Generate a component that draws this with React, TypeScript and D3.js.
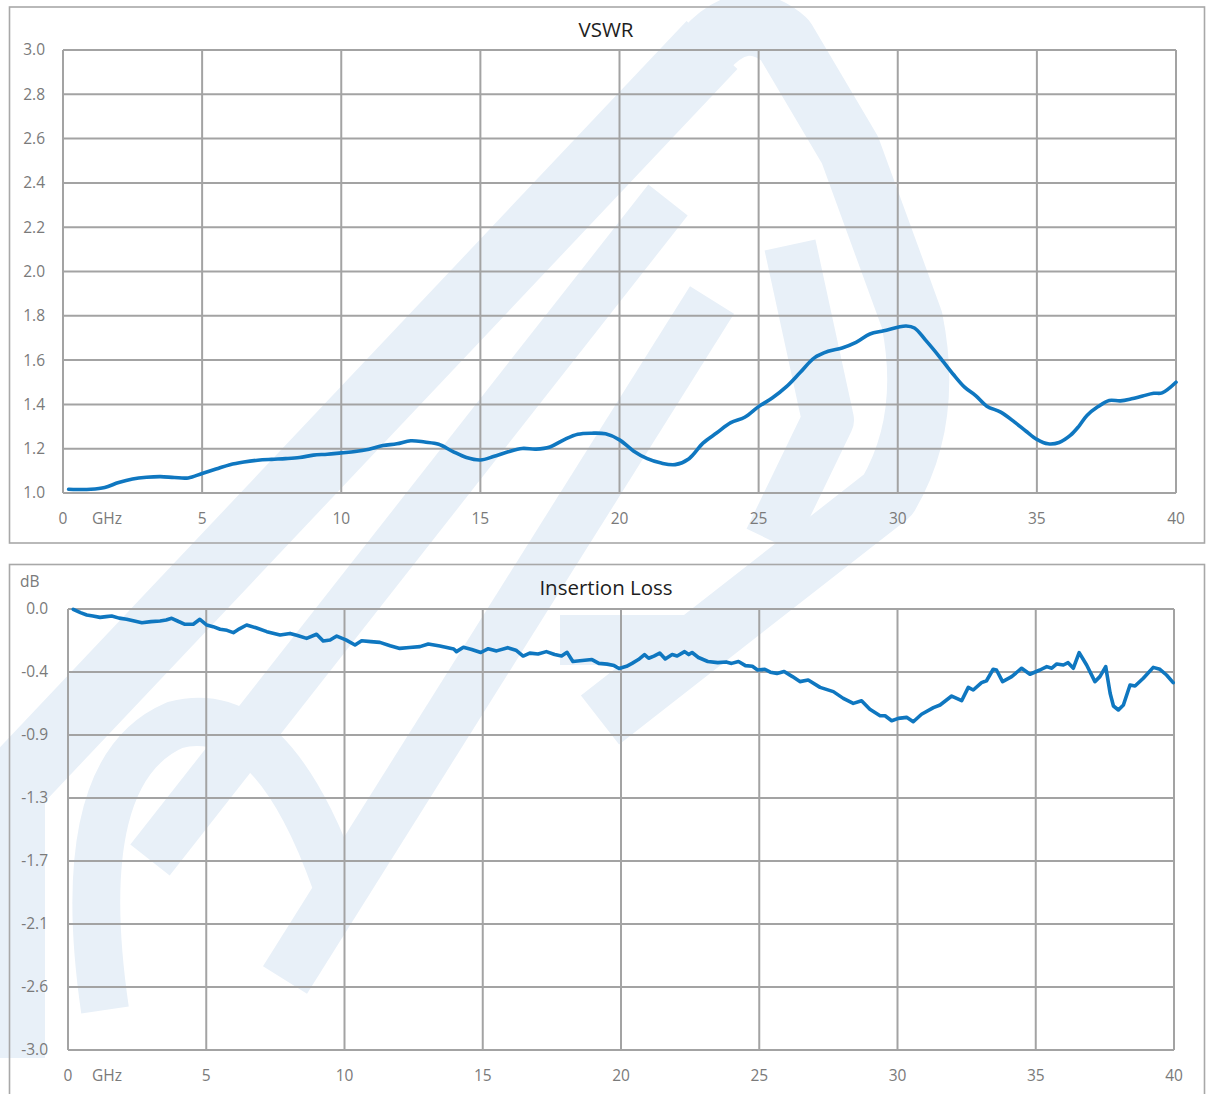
import React from "react";
import * as d3 from "d3";

// ---------- DATA ----------
const vswrFreq = [0.2, 0.5, 1, 1.5, 2, 2.5, 3, 3.5, 4, 4.5, 5, 5.5, 6, 6.5, 7, 7.5, 8, 8.5, 9, 9.5, 10, 10.5, 11, 11.5, 12, 12.5, 13, 13.5, 14, 14.5, 15, 15.5, 16, 16.5, 17, 17.5, 18, 18.5, 19, 19.5, 20, 20.5, 21, 21.5, 22, 22.5, 23, 23.5, 24, 24.5, 25, 25.5, 26, 26.5, 27, 27.5, 28, 28.5, 29, 29.5, 30, 30.3, 30.6, 31, 31.5, 32, 32.4, 32.8, 33.2, 33.7, 34.2, 34.6, 35, 35.4, 35.8, 36.2, 36.5, 36.8, 37.2, 37.6, 38, 38.4, 38.8, 39.2, 39.5, 40];
const vswrValue = [1.017, 1.016, 1.017, 1.025, 1.047, 1.063, 1.071, 1.074, 1.07, 1.068, 1.088, 1.108, 1.128, 1.14, 1.148, 1.152, 1.155, 1.16, 1.171, 1.175, 1.181, 1.187, 1.198, 1.214, 1.222, 1.236, 1.23, 1.22, 1.188, 1.16, 1.149, 1.166, 1.186, 1.201, 1.198, 1.208, 1.24, 1.265, 1.27, 1.267, 1.24, 1.19, 1.155, 1.135, 1.128, 1.155, 1.225, 1.272, 1.318, 1.342, 1.39, 1.43, 1.48, 1.545, 1.61, 1.64, 1.655, 1.68, 1.718, 1.732, 1.748, 1.754, 1.745, 1.69, 1.615, 1.535, 1.478, 1.44, 1.392, 1.365, 1.32, 1.28, 1.242, 1.222, 1.228, 1.26, 1.3, 1.35, 1.39, 1.418, 1.416, 1.425, 1.438, 1.45, 1.452, 1.5];

const ilFreq = [0.19, 0.45, 0.68, 0.9, 1.16, 1.38, 1.58, 1.85, 2.12, 2.4, 2.67, 3.0, 3.33, 3.55, 3.75, 4.0, 4.23, 4.53, 4.77, 5.02, 5.25, 5.5, 5.75, 5.98, 6.2, 6.46, 6.8, 7.19, 7.67, 8.03, 8.3, 8.63, 8.99, 9.23, 9.48, 9.72, 10.05, 10.38, 10.62, 10.95, 11.28, 11.65, 12.0, 12.35, 12.73, 13.03, 13.45, 13.7, 13.95, 14.05, 14.3, 14.6, 14.93, 15.2, 15.5, 15.9, 16.2, 16.46, 16.7, 17.0, 17.3, 17.6, 17.85, 18.05, 18.26, 18.6, 18.95, 19.2, 19.5, 19.75, 19.93, 20.2, 20.4, 20.63, 20.85, 21.0, 21.19, 21.4, 21.6, 21.85, 22.03, 22.3, 22.45, 22.57, 22.8, 23.14, 23.5, 23.8, 24.0, 24.25, 24.5, 24.75, 24.94, 25.2, 25.4, 25.64, 25.9, 26.2, 26.47, 26.77, 27.2, 27.68, 28.04, 28.4, 28.7, 29.0, 29.37, 29.55, 29.79, 30.03, 30.33, 30.57, 30.87, 31.3, 31.54, 31.96, 32.32, 32.56, 32.74, 33.04, 33.22, 33.46, 33.58, 33.8, 34.13, 34.49, 34.79, 35.15, 35.4, 35.58, 35.76, 36.0, 36.17, 36.36, 36.57, 36.84, 37.14, 37.32, 37.53, 37.69, 37.81, 37.99, 38.17, 38.41, 38.59, 38.89, 39.25, 39.49, 39.73, 39.97];
const ilValue = [-0.002, -0.025, -0.041, -0.048, -0.057, -0.052, -0.048, -0.062, -0.07, -0.082, -0.093, -0.086, -0.082, -0.075, -0.063, -0.085, -0.104, -0.104, -0.07, -0.109, -0.12, -0.138, -0.145, -0.161, -0.135, -0.109, -0.128, -0.154, -0.177, -0.166, -0.18, -0.2, -0.172, -0.218, -0.211, -0.184, -0.21, -0.245, -0.216, -0.222, -0.227, -0.25, -0.268, -0.262, -0.256, -0.238, -0.252, -0.262, -0.272, -0.29, -0.26, -0.275, -0.296, -0.27, -0.285, -0.263, -0.28, -0.32, -0.3, -0.306, -0.29, -0.31, -0.32, -0.295, -0.357, -0.35, -0.344, -0.37, -0.375, -0.385, -0.405, -0.39, -0.37, -0.344, -0.31, -0.335, -0.32, -0.3, -0.34, -0.31, -0.32, -0.29, -0.31, -0.296, -0.33, -0.357, -0.365, -0.36, -0.37, -0.357, -0.385, -0.39, -0.415, -0.41, -0.43, -0.438, -0.425, -0.46, -0.494, -0.483, -0.533, -0.562, -0.608, -0.642, -0.624, -0.682, -0.726, -0.726, -0.76, -0.744, -0.737, -0.767, -0.716, -0.671, -0.653, -0.592, -0.624, -0.533, -0.551, -0.501, -0.488, -0.41, -0.415, -0.494, -0.46, -0.403, -0.444, -0.415, -0.392, -0.403, -0.374, -0.381, -0.365, -0.403, -0.297, -0.381, -0.494, -0.46, -0.392, -0.573, -0.66, -0.687, -0.653, -0.517, -0.524, -0.471, -0.397, -0.41, -0.449, -0.501];

const xTicks = [0, 5, 10, 15, 20, 25, 30, 35, 40];
const vswrTicks = [1.0, 1.2, 1.4, 1.6, 1.8, 2.0, 2.2, 2.4, 2.6, 2.8, 3.0];
const ilTicks = d3.range(8).map((i) => (-3 * i) / 7);
const ilTickLabels = ["0.0", "-0.4", "-0.9", "-1.3", "-1.7", "-2.1", "-2.6", "-3.0"];

const W = 1206;
const H = 1094;
const FONT = "'Open Sans', 'Liberation Sans', sans-serif";
const GRID = "#a3a3a3";
const LINE = "#0f77c0";
const TXT = "#7a7a7a";

const vswrPts = vswrFreq.map((f, i) => [f, vswrValue[i]] as [number, number]);
const ilPts = ilFreq.map((f, i) => [f, ilValue[i]] as [number, number]);

function Watermark() {
  const c = "#e8f0f8";
  return (
    <g fill="none" stroke={c} strokeLinejoin="round">
      {/* outer ring of logo */}
      <path d="M -30 830 L 712 45" strokeWidth={70} />
      <path d="M 705 50 Q 745 5 785 40 L 850 150 L 912 320 Q 932 420 888 495 L 600 720" strokeWidth={62} />
      <path d="M 0 760 L 0 1100" strokeWidth={90} />
      {/* inner diagonal strokes */}
      <path d="M 668 200 L 150 860" strokeWidth={50} />
      <path d="M 712 300 L 285 980" strokeWidth={52} />
      <path d="M 790 245 L 828 420 L 770 540" strokeWidth={52} />
      {/* inner loop */}
      <path d="M 105 1010 Q 70 770 175 725 Q 270 700 335 880" strokeWidth={48} />
      <path d="M 560 640 L 720 640" strokeWidth={50} />
    </g>
  );
}

function Panel({
  top,
  plotX0,
  plotX1,
  plotY0,
  plotY1,
  yDomain,
  yTicks,
  yLabels,
  yLabelX,
  xLabelY,
  title,
  titleY,
  pts,
  curve,
  unit,
}: any) {
  const x = d3.scaleLinear().domain([0, 40]).range([plotX0, plotX1]);
  const y = d3.scaleLinear().domain(yDomain).range([plotY1, plotY0]);
  const line = d3
    .line<[number, number]>()
    .x((d) => x(d[0]))
    .y((d) => y(d[1]))
    .curve(curve);
  return (
    <g>
      <rect x={9.5} y={top} width={1195} height={top > 100 ? 560 : 536} fill="none" stroke="#a8a8a8" strokeWidth={1.6} />
      {yTicks.map((t: number, i: number) => (
        <line key={"h" + i} x1={plotX0} x2={plotX1} y1={y(t)} y2={y(t)} stroke={GRID} strokeWidth={2} />
      ))}
      {xTicks.map((t) => (
        <line key={"v" + t} x1={x(t)} x2={x(t)} y1={plotY0} y2={plotY1} stroke={GRID} strokeWidth={2} />
      ))}
      <path d={line(pts) || ""} fill="none" stroke={LINE} strokeWidth={3.6} strokeLinejoin="round" strokeLinecap="round" />
      {yTicks.map((t: number, i: number) => (
        <text key={"yl" + i} x={yLabelX} y={y(t)} dy="0.35em" textAnchor="end" fontSize={15.5} fill={TXT} fontFamily={FONT}>
          {yLabels[i]}
        </text>
      ))}
      {xTicks.map((t) => (
        <text key={"xl" + t} x={x(t)} y={xLabelY} dy="0.35em" textAnchor="middle" fontSize={15.5} fill={TXT} fontFamily={FONT}>
          {t}
        </text>
      ))}
      <text x={107} y={xLabelY} dy="0.35em" textAnchor="middle" fontSize={15.5} fill={TXT} fontFamily={FONT}>
        GHz
      </text>
      <text x={606} y={titleY} dy="0.35em" textAnchor="middle" fontSize={20.5} fill="#1e1e1e" fontFamily={FONT}>
        {title}
      </text>
      {unit && (
        <text x={20} y={582} dy="0.35em" fontSize={15.5} fill={TXT} fontFamily={FONT}>
          {unit}
        </text>
      )}
    </g>
  );
}

export default function App() {
  return (
    <svg width={W} height={H} style={{ position: "absolute", left: 0, top: 0, background: "#fff" }}>
      <rect x={0} y={0} width={W} height={H} fill="#fff" />
      <Watermark />
      <rect x={0} y={1058} width={133} height={40} fill="#fff" />
      <Panel
        top={7}
        plotX0={63}
        plotX1={1176}
        plotY0={50}
        plotY1={493}
        yDomain={[1, 3]}
        yTicks={vswrTicks}
        yLabels={vswrTicks.map((t) => t.toFixed(1))}
        yLabelX={45}
        xLabelY={519}
        title="VSWR"
        titleY={30}
        pts={vswrPts}
        curve={d3.curveCatmullRom.alpha(0.5)}
      />
      <Panel
        top={564.5}
        plotX0={68}
        plotX1={1174}
        plotY0={609}
        plotY1={1050}
        yDomain={[-3, 0]}
        yTicks={ilTicks}
        yLabels={ilTickLabels}
        yLabelX={48}
        xLabelY={1076}
        title="Insertion Loss"
        titleY={588}
        pts={ilPts}
        curve={d3.curveLinear}
        unit="dB"
      />
    </svg>
  );
}
